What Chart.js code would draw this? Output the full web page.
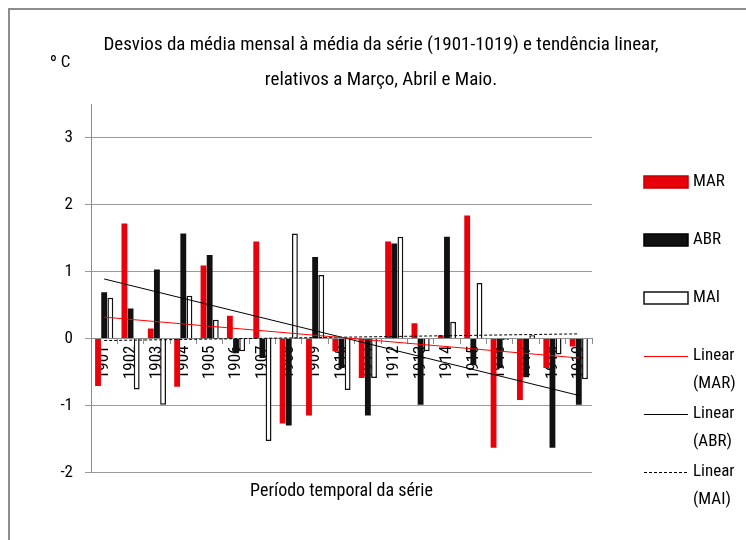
<!DOCTYPE html>
<html>
<head>
<meta charset="utf-8">
<script src="https://cdn.jsdelivr.net/npm/chart.js@4/dist/chart.umd.min.js"></script>
<style>
  body { margin: 0; background: #fff; }
  #wrap { position: relative; width: 746px; height: 540px; }
</style>
</head>
<body>
<div id="wrap"><canvas id="bar-chart"></canvas></div>
<script>
const years = ['1901','1902','1903','1904','1905','1906','1907','1908','1909','1910',
               '1911','1912','1913','1914','1915','1916','1917','1918','1919'];

const mar = [-0.71, 1.72, 0.15, -0.72, 1.09, 0.34, 1.45, -1.27, -1.15, -0.19,
             -0.59, 1.45, 0.23, 0.05, 1.84, -1.63, -0.92, -0.44, -0.12];
const abr = [0.69, 0.45, 1.03, 1.57, 1.25, -0.22, -0.29, -1.30, 1.22, -0.44,
             -1.15, 1.42, -0.99, 1.52, -0.39, -0.44, -0.58, -1.63, -0.99];
const mai = [0.61, -0.76, -0.99, 0.64, 0.28, -0.19, -1.53, 1.57, 0.95, -0.77,
             -0.59, 1.52, -0.19, 0.25, 0.83, -0.02, 0.05, -0.24, -0.61];

// trend lines, read at first and last year
const trendMar = [0.32, null, null, null, null, null, null, null, null, null,
                  null, null, null, null, null, null, null, null, -0.29];
const trendAbr = [0.89, null, null, null, null, null, null, null, null, null,
                  null, null, null, null, null, null, null, null, -0.85];
const trendMai = [-0.03, null, null, null, null, null, null, null, null, null,
                  null, null, null, null, null, null, null, null, 0.07];

const yTicks = [-2, -1, 0, 1, 2, 3];

const legendLabels = [['MAR'], ['ABR'], ['MAI'], ['Linear', '(MAR)'], ['Linear', '(ABR)'], ['Linear', '(MAI)']];

const FONT = '"Roboto Condensed", "DejaVu Sans Condensed", sans-serif';

// frame, "º C" and the legend on the right
const extras = {
  id: 'extras',
  afterDraw(chart) {
    const ctx = chart.ctx;
    ctx.save();
    ctx.strokeStyle = '#8c8c8c';
    ctx.lineWidth = 2;
    ctx.beginPath();
    ctx.moveTo(9, 540);
    ctx.lineTo(9, 9);
    ctx.lineTo(746, 9);
    ctx.stroke();

    ctx.fillStyle = '#000';
    ctx.font = '17px ' + FONT;
    ctx.textBaseline = 'middle';
    ctx.fillText('º C', 50, 63);

    ctx.font = '17px ' + FONT;
    chart.data.datasets.forEach((ds, i) => {
      const y = 182 + i * 58;
      const x0 = 644, w = 44;
      if (ds.type === 'line') {
        ctx.strokeStyle = ds.borderColor;
        ctx.lineWidth = 1;
        ctx.setLineDash(ds.borderDash || []);
        ctx.beginPath();
        ctx.moveTo(x0, y + 0.5);
        ctx.lineTo(x0 + w, y + 0.5);
        ctx.stroke();
        ctx.setLineDash([]);
      } else {
        ctx.fillStyle = ds.backgroundColor;
        ctx.fillRect(x0, y - 6, w, 12);
        ctx.strokeStyle = ds.borderColor;
        ctx.lineWidth = 1.5;
        ctx.strokeRect(x0, y - 6, w, 12);
      }
      ctx.fillStyle = '#000';
      legendLabels[i].forEach((t, k) => ctx.fillText(t, 693, y + k * 28));
    });
    ctx.restore();
  }
};

new Chart(document.getElementById('bar-chart'), {
  type: 'bar',
  data: {
    labels: years,
    datasets: [
      { label: 'MAR', data: mar, backgroundColor: '#e8000b', borderColor: '#c00000', borderWidth: 0, order: 1 },
      { label: 'ABR', data: abr, backgroundColor: '#111111', borderColor: '#000000', borderWidth: 0, order: 1 },
      { label: 'MAI', data: mai, backgroundColor: '#ffffff', borderColor: '#111111', borderWidth: 1.5, order: 1 },
      { type: 'line', label: 'Linear (MAR)', data: trendMar, borderColor: '#ff0000', borderWidth: 1,
        pointRadius: 0, spanGaps: true, fill: false, order: 0 },
      { type: 'line', label: 'Linear (ABR)', data: trendAbr, borderColor: '#000000', borderWidth: 1,
        pointRadius: 0, spanGaps: true, fill: false, order: 0 },
      { type: 'line', label: 'Linear (MAI)', data: trendMai, borderColor: '#000000', borderWidth: 1,
        borderDash: [3, 2], pointRadius: 0, spanGaps: true, fill: false, order: 0 }
    ]
  },
  options: {
    responsive: true,
    maintainAspectRatio: false,
    animation: false,
    layout: { padding: { left: 16, right: 0, top: 10, bottom: 34 } },
    datasets: { bar: { categoryPercentage: 0.7, barPercentage: 0.95 } },
    plugins: {
      legend: { display: false },
      tooltip: { enabled: false },
      title: {
        display: true,
        text: ['Desvios da média mensal à média da série (1901-1019) e tendência linear,',
               'relativos a Março, Abril e Maio.'],
        color: '#000',
        font: { family: FONT, size: 19, weight: 'normal', lineHeight: 1.85 },
        padding: { top: 18, bottom: 6 }
      },
      subtitle: {
        display: true,
        position: 'bottom',
        fullSize: false,
        text: 'Período temporal da série',
        color: '#000',
        font: { family: FONT, size: 18, weight: 'normal', lineHeight: 1.2 },
        padding: { top: 8, bottom: 4 }
      }
    },
    scales: {
      x: {
        position: { y: 0 },
        offset: true,
        grid: { display: true, drawOnChartArea: false, drawTicks: true, tickLength: 5, color: '#8c8c8c', offset: true },
        border: { display: true, color: '#8c8c8c', width: 1 },
        ticks: { autoSkip: false, minRotation: 90, maxRotation: 90, padding: 2, color: '#000',
                 font: { family: FONT, size: 17 } },
        afterFit(scale) { scale.height = 0; }
      },
      y: {
        min: -2,
        max: 3.5,
        afterBuildTicks(scale) { scale.ticks = yTicks.map(v => ({ value: v })); },
        grid: { color: '#9a9a9a', tickLength: 6 },
        border: { display: true, color: '#8c8c8c', width: 1 },
        ticks: { color: '#000', padding: 12, font: { family: FONT, size: 17 } },
        afterFit(scale) { scale.width = 75; }
      },
      legendSpace: {
        type: 'linear',
        position: 'right',
        display: true,
        grid: { display: false },
        border: { display: false },
        ticks: { display: false },
        afterFit(scale) { scale.width = 154; }
      }
    }
  },
  plugins: [extras]
});
</script>
</body>
</html>
